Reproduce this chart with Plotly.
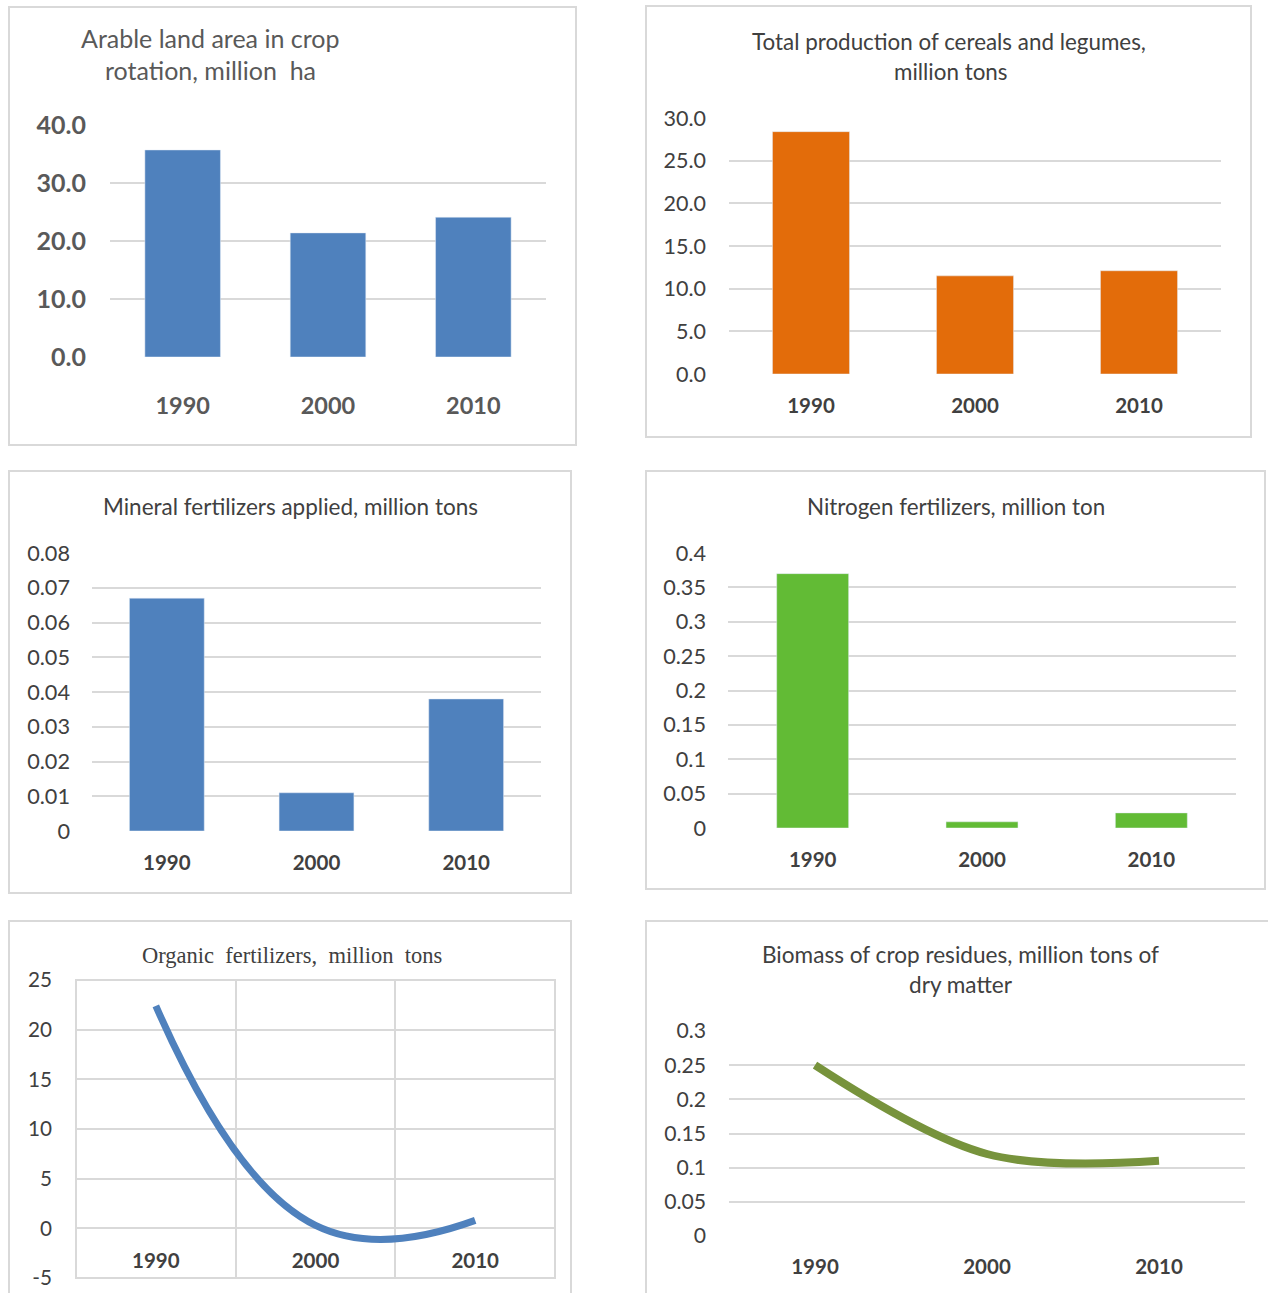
import plotly.graph_objects as go

W, H = 1268, 1293
OFF = 0  # body margin is removed in the page, so pixel positions map directly

# ---------------- data ----------------
years = ["1990", "2000", "2010"]
arable_land = [35.7, 21.4, 24.1]
cereals_legumes = [28.4, 11.5, 12.1]
mineral_fert = [0.067, 0.011, 0.038]
nitrogen_fert = [0.37, 0.009, 0.022]
organic_fert = [22.4, 0.3, 0.8]
biomass_resid = [0.25, 0.12, 0.11]

organic_ticks = [-5, 0, 5, 10, 15, 20, 25]
organic_ticktext = ["-5", "0", "5", "10", "15", "20", "25"]

titles = {
    "p1": ["Arable land area in crop", "rotation, million\u00a0 ha"],
    "p2": ["Total production of cereals and legumes,", "million tons"],
    "p3": ["Mineral fertilizers applied, million tons"],
    "p4": ["Nitrogen fertilizers, million ton"],
    "p5": ["Organic\u00a0 fertilizers,\u00a0 million\u00a0 tons"],
    "p6": ["Biomass of crop residues, million tons of", "dry matter"],
}

BLUE = "#4F81BD"
ORANGE = "#E36C0A"
GREEN = "#62BB35"
OLIVE = "#77933C"
GRID = "#D9D9D9"
TXT = "#404040"
TXT1 = "#595959"
FONT = "Lato"


def px(x):
    return (x - OFF) / W


def py(y):
    return 1 - (y - OFF) / H


def dx(a, b):
    return [px(a), px(b)]


def dy(top, bottom):
    return [py(bottom), py(top)]


fig = go.Figure()

fig.add_trace(go.Bar(x=years, y=arable_land, marker_color=BLUE, width=0.52,
                     xaxis="x", yaxis="y", showlegend=False))
fig.add_trace(go.Bar(x=years, y=cereals_legumes, marker_color=ORANGE, width=0.47,
                     xaxis="x2", yaxis="y2", showlegend=False))
fig.add_trace(go.Bar(x=years, y=mineral_fert, marker_color=BLUE, width=0.5,
                     xaxis="x3", yaxis="y3", showlegend=False))
fig.add_trace(go.Bar(x=years, y=nitrogen_fert, marker_color=GREEN, width=0.425,
                     xaxis="x4", yaxis="y4", showlegend=False))
fig.add_trace(go.Scatter(x=years, y=organic_fert, mode="lines",
                         line=dict(color=BLUE, width=7, shape="spline", smoothing=1.3),
                         xaxis="x5", yaxis="y5", showlegend=False))
fig.add_trace(go.Scatter(x=years, y=biomass_resid, mode="lines",
                         line=dict(color=OLIVE, width=8, shape="spline", smoothing=1),
                         xaxis="x6", yaxis="y6", showlegend=False))


def xax(domain, anchor, size, color, standoff, **kw):
    d = dict(domain=domain, anchor=anchor, type="category", showgrid=False,
             showline=False, zeroline=False, ticks="", automargin=False,
             range=[-0.5, 2.5],
             tickfont=dict(family=FONT, size=size, color=color, weight="bold"),
             ticklabelstandoff=standoff, fixedrange=True)
    d.update(kw)
    return d


def yax(domain, anchor, rng, dtick, size, color, standoff, bold=False, **kw):
    d = dict(domain=domain, anchor=anchor, range=rng, dtick=dtick, showgrid=True,
             gridcolor=GRID, gridwidth=2, showline=False, zeroline=False, ticks="",
             automargin=False,
             tickfont=dict(family=FONT, size=size, color=color,
                           weight="bold" if bold else "normal"),
             ticklabelstandoff=standoff, fixedrange=True)
    d.update(kw)
    return d


layout = dict(
    width=W, height=H, margin=dict(l=0, r=0, t=0, b=0, pad=0, autoexpand=False),
    autosize=False, showlegend=False, hovermode=False,
    paper_bgcolor="white", plot_bgcolor="white",
    font=dict(family=FONT, color=TXT),
    xaxis=xax(dx(110, 546), "y", 23.5, TXT1, 32),
    yaxis=yax(dy(125, 357), "x", [0, 40], 10, 25, TXT1, 23, bold=True, tickformat=".1f"),
    xaxis2=xax(dx(729, 1221), "y2", 20.5, TXT, 17),
    yaxis2=yax(dy(118, 374), "x2", [0, 30], 5, 21.5, TXT, 22, tickformat=".1f"),
    xaxis3=xax(dx(92, 541), "y3", 20.5, TXT, 17),
    yaxis3=yax(dy(553, 831), "x3", [0, 0.08], 0.01, 21.7, TXT, 21),
    xaxis4=xax(dx(728, 1236), "y4", 20.5, TXT, 17),
    yaxis4=yax(dy(553, 828), "x4", [0, 0.4], 0.05, 21.7, TXT, 21),
    xaxis5=xax(dx(76, 555), "free", 20.5, TXT, 18, position=py(1228.3),
               showgrid=True, gridcolor=GRID, gridwidth=2, tickson="boundaries"),
    yaxis5=yax(dy(980, 1278), "x5", [-5, 25], None, 20.7, TXT, 23,
               tickmode="array", tickvals=organic_ticks, ticktext=organic_ticktext),
    xaxis6=xax(dx(729, 1245), "y6", 20.5, TXT, 16),
    yaxis6=yax(dy(1031, 1236), "x6", [0, 0.3], 0.05, 21.2, TXT, 22),
)
fig.update_layout(**layout)

frames = [(9, 7, 576, 445), (646, 6, 1251, 437), (9, 471, 571, 893),
          (646, 471, 1265, 889), (9, 921, 571, 1320), (646, 921, 1290, 1320)]
shapes = []
for (x0, y0, x1, y1) in frames:
    shapes.append(dict(type="rect", xref="paper", yref="paper",
                       x0=px(x0), x1=px(x1), y0=py(y1), y1=py(y0),
                       line=dict(color=GRID, width=2), fillcolor="rgba(0,0,0,0)",
                       layer="below"))
shapes.append(dict(type="rect", xref="x5 domain", yref="y5 domain", x0=0, x1=1, y0=0, y1=1,
                   line=dict(color=GRID, width=2), layer="below"))
fig.update_layout(shapes=shapes)

title_pos = {
    "p1": [(210, 38), (210, 70)],
    "p2": [(949, 41), (951, 71)],
    "p3": [(290, 506)],
    "p4": [(956, 506)],
    "p5": [(292, 956)],
    "p6": [(961, 954), (961, 984)],
}
title_style = {
    "p1": (25, TXT1, FONT),
    "p2": (22.4, TXT, FONT),
    "p3": (22.5, TXT, FONT),
    "p4": (22.4, TXT, FONT),
    "p5": (22.5, TXT, "Liberation Serif"),
    "p6": (22.6, TXT, FONT),
}
anns = []
for key, lines in titles.items():
    size, color, fam = title_style[key]
    for text, (cx, cy) in zip(lines, title_pos[key]):
        anns.append(dict(text=text, xref="paper", yref="paper", x=px(cx), y=py(cy),
                         xanchor="center", yanchor="middle", showarrow=False,
                         font=dict(family=fam, size=size, color=color)))
fig.update_layout(annotations=anns)

fig.write_html(
    "out.html",
    config={"displayModeBar": False, "staticPlot": True},
    post_script="document.body.style.margin='0';document.body.style.overflow='hidden';",
)
